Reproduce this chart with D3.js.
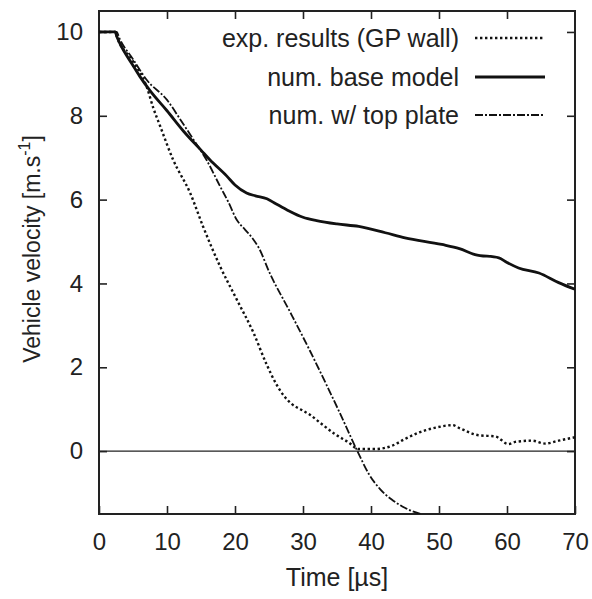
<!DOCTYPE html>
<html><head><meta charset="utf-8">
<script src="https://cdn.jsdelivr.net/npm/d3@7"></script>
<style>
body{margin:0;background:#fff;}
text{font-family:"Liberation Sans",Arial,Helvetica,sans-serif;fill:#222;}
</style></head>
<body>
<svg id="chart" width="592" height="599"></svg>
<script>
// ---- data ----
const xTicks = [0,10,20,30,40,50,60,70];
const yTicks = [0,2,4,6,8,10];
const seriesNames = ["exp. results (GP wall)","num. base model","num. w/ top plate"];

const expT = [0,2.4,2.6,5,7,8,9,10.9,13.4,15.3,17.8,20.25,22.7,24.7,26,27.1,28.3,29.6,31,32.5,34.75,36.7,38.2,40.6,43.1,45,47,49.5,52,53,55.8,58.3,60.2,61.2,63.7,65.6,67.6,70];
const expV = [10,10,9.9,9.3,8.7,8.18,7.75,6.95,6.16,5.36,4.41,3.62,2.83,2.05,1.62,1.34,1.13,1.0,0.87,0.68,0.40,0.21,0.05,0.05,0.13,0.29,0.44,0.56,0.62,0.55,0.38,0.35,0.17,0.22,0.25,0.18,0.25,0.33];

const baseT = [0,2.4,2.6,3,5,6,7.5,10,12.5,15,16.3,18.8,20,21.7,23,24.7,26,27.6,30,32,35,38.2,42.1,45,50.4,53,55.3,58.8,60,61.7,64.7,67.6,70];
const baseV = [10,10,9.9,9.75,9.2,8.94,8.6,8.12,7.62,7.18,6.95,6.56,6.35,6.16,6.09,6.02,5.9,5.76,5.58,5.5,5.42,5.36,5.21,5.09,4.93,4.83,4.69,4.61,4.5,4.37,4.25,4.02,3.86];

const plateT = [0,2.6,3,5,7,10,12,13.9,15.8,17.8,19,20.25,21.5,22.7,23.5,25.1,28.1,31,33.4,35.3,38,39.7,41.3,43,44.6,46,47.3];
const plateV = [10,10,9.85,9.35,8.86,8.38,7.9,7.43,6.95,6.32,5.95,5.52,5.28,5.05,4.85,4.25,3.32,2.4,1.6,0.95,0.0,-0.55,-0.9,-1.15,-1.32,-1.43,-1.5];

// ---- layout ----
const svg = d3.select("#chart");
const L=99, R=575, T=11, B=514;
const x = d3.scaleLinear().domain([0,70]).range([L,R]);
const y = d3.scaleLinear().domain([-1.5,10.5]).range([B,T]);

svg.append("defs").append("clipPath").attr("id","clip")
  .append("rect").attr("x",L).attr("y",T).attr("width",R-L).attr("height",B-T);

// zero line
svg.append("line").attr("x1",L).attr("x2",R).attr("y1",y(0)).attr("y2",y(0))
  .attr("stroke","#222").attr("stroke-width",1.2);

function styleAxis(sel){
  sel.select(".domain").remove();
  sel.selectAll(".tick line").attr("stroke","#222").attr("stroke-width",1.6);
}
const xAxisB = svg.append("g").attr("transform",`translate(0,${B})`)
  .call(d3.axisBottom(x).tickValues(xTicks).tickSizeInner(-8).tickSizeOuter(0).tickPadding(18).tickFormat(d3.format("d")));
styleAxis(xAxisB);
xAxisB.selectAll(".tick text").attr("font-size",24).attr("fill","#222").attr("dy","0.75em")
  .attr("font-family","Liberation Sans, Arial, sans-serif");
const xAxisT = svg.append("g").attr("transform",`translate(0,${T})`)
  .call(d3.axisTop(x).tickValues(xTicks.filter(d=>d>0&&d<70)).tickSizeInner(-8).tickSizeOuter(0).tickFormat(""));
styleAxis(xAxisT);
const yAxisL = svg.append("g").attr("transform",`translate(${L},0)`)
  .call(d3.axisLeft(y).tickValues(yTicks).tickSizeInner(-8).tickSizeOuter(0).tickPadding(16).tickFormat(d3.format("d")));
styleAxis(yAxisL);
yAxisL.selectAll(".tick text").attr("font-size",24).attr("fill","#222")
  .attr("font-family","Liberation Sans, Arial, sans-serif");
const yAxisR = svg.append("g").attr("transform",`translate(${R},0)`)
  .call(d3.axisRight(y).tickValues(yTicks).tickSizeInner(-8).tickSizeOuter(0).tickFormat(""));
styleAxis(yAxisR);

// frame
svg.append("rect").attr("x",L).attr("y",T).attr("width",R-L).attr("height",B-T)
  .attr("fill","none").attr("stroke","#222").attr("stroke-width",2);

// series
const line = d3.line().x(d=>x(d[0])).y(d=>y(d[1])).curve(d3.curveMonotoneX);
const styles = [
  {w:2.4, dash:"2.4,2.6"},
  {w:2.8, dash:null},
  {w:1.8, dash:"8,2,2,2"}
];
const data = [d3.zip(expT,expV), d3.zip(baseT,baseV), d3.zip(plateT,plateV)];
const plotG = svg.append("g").attr("clip-path","url(#clip)");
data.forEach((d,i)=>{
  plotG.append("path").datum(d).attr("d",line).attr("fill","none")
    .attr("stroke","#111").attr("stroke-width",styles[i].w)
    .attr("stroke-dasharray",styles[i].dash).attr("stroke-linejoin","round");
});

// legend
const legY = [38,77,115];
seriesNames.forEach((n,i)=>{
  svg.append("text").attr("x",459).attr("y",legY[i]).attr("dy","0.35em")
    .attr("text-anchor","end").attr("font-size",25).text(n);
  svg.append("line").attr("x1",475).attr("x2",545).attr("y1",legY[i]).attr("y2",legY[i])
    .attr("stroke","#111").attr("stroke-width",styles[i].w).attr("stroke-dasharray",styles[i].dash);
});

// axis titles
svg.append("text").attr("x",337).attr("y",586).attr("text-anchor","middle")
  .attr("font-size",25).text("Time [µs]");
const yt = svg.append("text").attr("transform","translate(40,249) rotate(-90)")
  .attr("text-anchor","middle").attr("font-size",23);
yt.append("tspan").text("Vehicle velocity [m.s");
yt.append("tspan").attr("dy",-10).attr("font-size",16).text("-1");
yt.append("tspan").attr("dy",10).text("]");
</script>
</body></html>
